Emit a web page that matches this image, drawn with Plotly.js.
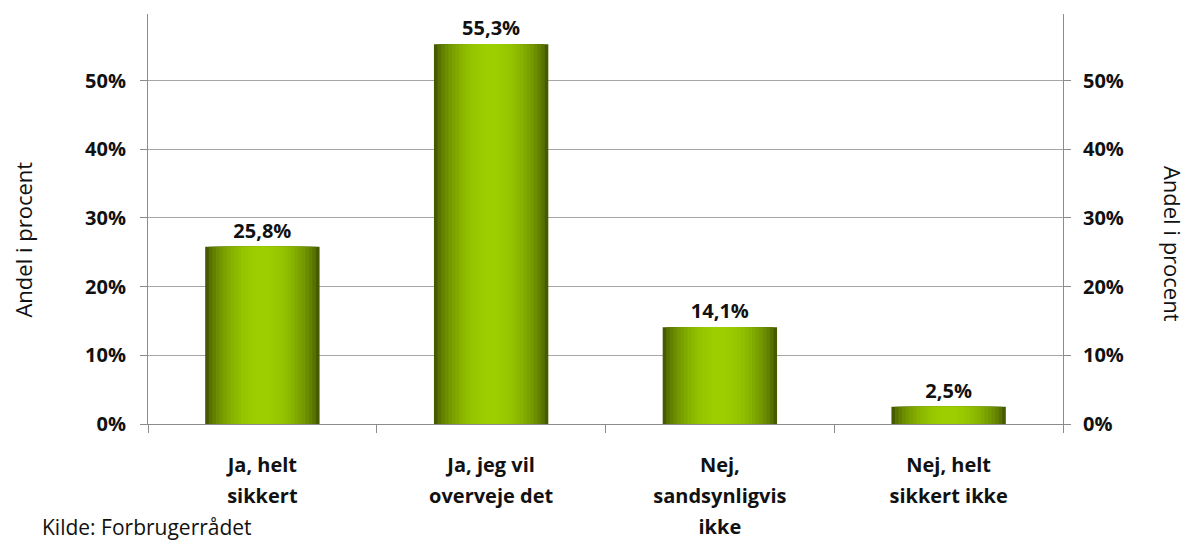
<!DOCTYPE html>
<html>
<head>
<meta charset="utf-8">
<script src="https://cdn.plot.ly/plotly-3.0.1.min.js"></script>
<style>html,body{margin:0;padding:0;background:#fff;}#chart{width:1188px;height:541px;}</style>
</head>
<body>
<div id="chart"></div>
<script>
// ---- data ----
const categories = ["Ja, helt<br>sikkert", "Ja, jeg vil<br>overveje det", "Nej,<br>sandsynligvis<br>ikke", "Nej, helt<br>sikkert ikke"];
const values = [25.8, 55.3, 14.1, 2.5];
const yTickValues = [0, 10, 20, 30, 40, 50];
const yTickLabels = ["0%", "10%", "20%", "30%", "40%", "50%"];
const axisTitle = "Andel i procent";
const sourceText = "Kilde: Forbrugerrådet";

// ---- style ----
const FONT = "Open Sans, Noto Sans, sans-serif";
const dark = [70, 90, 0], bright = [156, 206, 0];
const N = 16, BAR_W = 0.5;
function mix(t) {
  const e = Math.pow(Math.sin(t * Math.PI / 2), 0.7);
  return "rgb(" + dark.map((d, k) => Math.round(d + (bright[k] - d) * e)).join(",") + ")";
}
const traces = [];
for (let i = 0; i < N; i++) {
  const t = i / (N - 1);
  const tr = {
    type: "bar", x: categories, y: values,
    width: categories.map(() => BAR_W * (1 - i / N)),
    marker: {color: mix(t), line: {width: 0}},
    hoverinfo: "skip", showlegend: false
  };
  if (i === 0) {
    tr.texttemplate = "%{y:.1f}%";
    tr.textposition = "outside";
    tr.cliponaxis = false;
    tr.textfont = {family: FONT, size: 20, color: "#111", weight: 700};
  }
  traces.push(tr);
}
// companion trace for the right axis
traces.push({type: "scatter", mode: "markers", x: categories, y: values, yaxis: "y2",
  marker: {opacity: 0}, hoverinfo: "skip", showlegend: false});

// category labels: wider line spacing by rendering lines at a smaller size than the tick font
const catLabels = categories.map(c => c.split("<br>").map(l => '<span style="font-size:20px">' + l + '</span>').join("<br>"));

const yCommon = {
  range: [0, 59.7], tickmode: "array", tickvals: yTickValues, ticktext: yTickLabels,
  tickfont: {family: FONT, size: 20, color: "#111", weight: 700},
  showline: true, linecolor: "#8c8c8c", linewidth: 1,
  ticks: "outside", ticklen: 7, tickcolor: "#8c8c8c",
  zeroline: false, fixedrange: true
};

const layout = {
  width: 1188, height: 541,
  margin: {l: 148, r: 125, t: 14, b: 117},
  paper_bgcolor: "#fff", plot_bgcolor: "#fff",
  separators: ",.",
  barmode: "overlay",
  xaxis: {
    type: "category", showline: true, linecolor: "#8c8c8c", linewidth: 1,
    ticks: "outside", tickson: "boundaries", ticklen: 8, tickcolor: "#8c8c8c",
    tickmode: "array", tickvals: categories, ticktext: catLabels,
    tickfont: {family: FONT, size: 24, color: "#111", weight: 700},
    ticklabelstandoff: 18, showgrid: false
  },
  yaxis: Object.assign({}, yCommon, {showgrid: true, gridcolor: "#a6a6a6", gridwidth: 1, ticklabelstandoff: 10}),
  yaxis2: Object.assign({}, yCommon, {overlaying: "y", side: "right", showgrid: false, ticklabelstandoff: 8}),
  annotations: [
    {text: axisTitle, xref: "paper", yref: "paper", x: -0.137, y: 0.449, xanchor: "center", yanchor: "middle", textangle: -90,
     showarrow: false, font: {family: FONT, size: 22, color: "#111"}},
    {text: axisTitle, xref: "paper", yref: "paper", x: 1.121, y: 0.44, xanchor: "center", yanchor: "middle", textangle: 90,
     showarrow: false, font: {family: FONT, size: 22, color: "#111"}},
    {text: sourceText, xref: "paper", yref: "paper", x: -0.118, y: -0.212, xanchor: "left", yanchor: "top",
     showarrow: false, font: {family: FONT, size: 21, color: "#111"}}
  ]
};

Plotly.newPlot("chart", traces, layout, {displayModeBar: false, staticPlot: true});
</script>
</body>
</html>
